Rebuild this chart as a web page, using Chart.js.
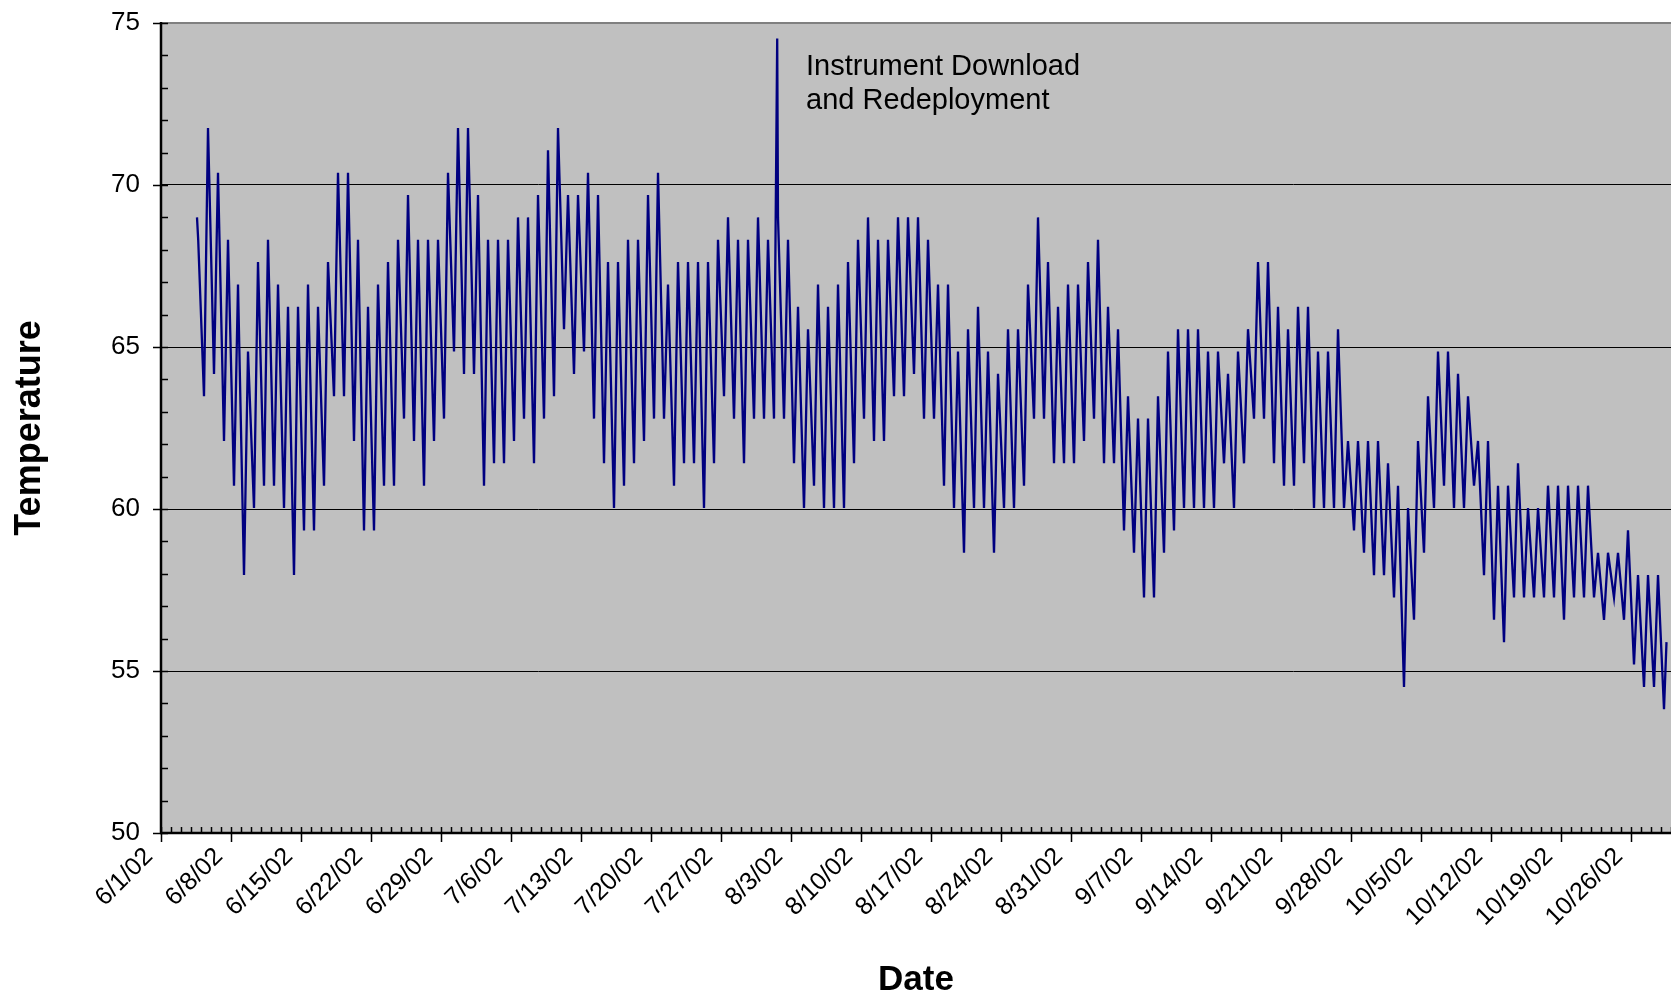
<!DOCTYPE html>
<html lang="en">
<head>
<meta charset="utf-8"/>
<title>Temperature, June – October 2002</title>
<script src="https://cdn.jsdelivr.net/npm/chart.js"></script>
<style>
  body{margin:0;background:#fff}
  .chart-box{position:relative;width:1671px;height:998px}
</style>
</head>
<body>
<div class="chart-box"><canvas id="tempChart"></canvas></div>
<script>
// x values are days counted from 6/1/02 00:00
const tickLabels=['6/1/02','6/8/02','6/15/02','6/22/02','6/29/02','7/6/02','7/13/02','7/20/02','7/27/02','8/3/02','8/10/02','8/17/02','8/24/02','8/31/02','9/7/02','9/14/02','9/21/02','9/28/02','10/5/02','10/12/02','10/19/02','10/26/02'];
const yTicks=[50,55,60,65,70,75];

const firstDay=4;          // first full day of record: 6/5/02
const lowTime=0.3,highTime=0.7;
// daily morning minimum, 6/5 .. 10/31
const morningLows=[
  63.48,64.17,62.10,60.72,57.96,60.03,60.72,60.72,60.03,57.96,
  59.34,59.34,60.72,63.48,63.48,62.10,59.34,59.34,60.72,60.72,
  62.79,62.10,60.72,62.10,62.79,64.86,64.17,64.17,60.72,61.41,
  61.41,62.10,62.79,61.41,62.79,63.48,65.55,64.17,64.86,62.79,
  61.41,60.03,60.72,61.41,62.10,62.79,62.79,60.72,61.41,61.41,
  60.03,61.41,63.48,62.79,61.41,62.79,62.79,62.79,62.79,61.41,
  60.03,60.72,60.03,60.03,60.03,61.41,62.79,62.10,62.10,63.48,
  63.48,64.17,62.79,62.79,60.72,60.03,58.65,60.03,60.03,58.65,
  60.03,60.03,60.72,62.79,62.79,61.41,61.41,61.41,62.10,62.79,
  61.41,61.41,59.34,58.65,57.27,57.27,58.65,59.34,60.03,60.03,
  60.03,60.03,61.41,60.03,61.41,62.79,62.79,61.41,60.72,60.72,
  61.41,60.03,60.03,60.03,60.03,59.34,58.65,57.96,57.96,57.27,
  54.51,56.58,58.65,60.03,60.72,60.03,60.03,60.72,57.96,56.58,
  55.89,57.27,57.27,57.27,57.27,57.27,56.58,57.27,57.27,57.27,
  56.58,57.27,56.58,55.20,54.51,54.51,53.82
];
// daily afternoon maximum, 6/5 .. 10/30
const afternoonHighs=[
  71.76,70.38,68.31,66.93,64.86,67.62,68.31,66.93,66.24,66.24,
  66.93,66.24,67.62,70.38,70.38,68.31,66.24,66.93,67.62,68.31,
  69.69,68.31,68.31,68.31,70.38,71.76,71.76,69.69,68.31,68.31,
  68.31,69.00,69.00,69.69,71.07,71.76,69.69,69.69,70.38,69.69,
  67.62,67.62,68.31,68.31,69.69,70.38,66.93,67.62,67.62,67.62,
  67.62,68.31,69.00,68.31,68.31,69.00,68.31,69.00,68.31,66.24,
  65.55,66.93,66.24,66.93,67.62,68.31,69.00,68.31,68.31,69.00,
  69.00,69.00,68.31,66.93,66.93,64.86,65.55,66.24,64.86,64.17,
  65.55,65.55,66.93,69.00,67.62,66.24,66.93,66.93,67.62,68.31,
  66.24,65.55,63.48,62.79,62.79,63.48,64.86,65.55,65.55,65.55,
  64.86,64.86,64.17,64.86,65.55,67.62,67.62,66.24,65.55,66.24,
  66.24,64.86,64.86,65.55,62.10,62.10,62.10,62.10,61.41,60.72,
  60.03,62.10,63.48,64.86,64.86,64.17,63.48,62.10,62.10,60.72,
  60.72,61.41,60.03,60.03,60.72,60.72,60.72,60.72,60.72,58.65,
  58.65,58.65,59.34,57.96,57.96,57.96
];
const startReadings=[[3.60,69.00],[3.66,69.00],[3.72,68.31]];
const redeploySpike=[61.62,74.52];
const endReadings=[[150.55,55.89]];

const noteLines=['Instrument Download','and Redeployment'];
const noteAt=[64.5,73.40];

const FONT='"Liberation Sans", Arial, sans-serif';

const points=[];
startReadings.forEach(([d,v])=>points.push({x:d,y:v}));
morningLows.forEach((v,i)=>points.push({x:firstDay+i+lowTime,y:v}));
afternoonHighs.forEach((v,i)=>points.push({x:firstDay+i+highTime,y:v}));
points.push({x:redeploySpike[0],y:redeploySpike[1]});
endReadings.forEach(([d,v])=>points.push({x:d,y:v}));
points.sort((a,b)=>a.x-b.x);

const plotBg={
  id:'plotBg',
  beforeDraw(chart){
    const {ctx,chartArea:a}=chart;
    ctx.save();ctx.fillStyle='#c0c0c0';
    ctx.fillRect(a.left,a.top,a.right-a.left,a.bottom-a.top);
    ctx.restore();
  }
};

const axisMarks={
  id:'axisMarks',
  afterDraw(chart){
    const {ctx,chartArea:a,scales:{x,y}}=chart;
    ctx.save();
    ctx.strokeStyle='#808080';ctx.lineWidth=2;
    ctx.beginPath();ctx.moveTo(a.left,a.top);ctx.lineTo(a.right,a.top);ctx.stroke();
    ctx.strokeStyle='#000';ctx.lineWidth=1.5;
    ctx.beginPath();
    for(let v=y.min;v<=y.max;v++){
      const py=Math.round(y.getPixelForValue(v))+0.5;
      ctx.moveTo(v%5===0?a.left-8:a.left,py);ctx.lineTo(a.left+7,py);
    }
    for(let d=x.min;d<=x.max;d++){
      const px=Math.round(x.getPixelForValue(d))+0.5;
      ctx.moveTo(px,d%7===0?a.bottom+9:a.bottom);ctx.lineTo(px,a.bottom-6);
    }
    ctx.stroke();
    ctx.lineWidth=2.5;
    ctx.beginPath();
    ctx.moveTo(a.left,a.top-1);ctx.lineTo(a.left,a.bottom+1);
    ctx.moveTo(a.left-1,a.bottom);ctx.lineTo(a.right,a.bottom);
    ctx.stroke();
    ctx.restore();
  }
};

const note={
  id:'note',
  afterDraw(chart){
    const {ctx,scales:{x,y}}=chart;
    ctx.save();
    ctx.font='29px '+FONT;ctx.fillStyle='#000';ctx.textBaseline='alphabetic';
    const px=x.getPixelForValue(noteAt[0]),py=y.getPixelForValue(noteAt[1]);
    noteLines.forEach((t,i)=>ctx.fillText(t,px,py+i*34));
    ctx.restore();
  }
};

new Chart(document.getElementById('tempChart'),{
  type:'line',
  data:{datasets:[{
    label:'Temperature',
    data:points,
    borderColor:'#000080',
    borderWidth:2.3,
    pointRadius:0,
    tension:0,
    fill:false
  }]},
  options:{
    responsive:true,
    maintainAspectRatio:false,
    animation:false,
    layout:{padding:{top:23,right:0,bottom:0,left:0}},
    plugins:{legend:{display:false},tooltip:{enabled:false}},
    scales:{
      x:{
        type:'linear',min:0,max:151,
        afterFit:s=>{s.height=165;s.paddingLeft=0;s.paddingRight=0;},
        grid:{display:false,drawTicks:false},
        border:{display:false},
        ticks:{
          stepSize:7,includeBounds:false,autoSkip:false,
          minRotation:45,maxRotation:45,padding:9,labelOffset:-12,
          color:'#000',font:{family:FONT,size:25},
          callback:v=>tickLabels[Math.round(v/7)]
        },
        title:{display:true,text:'Date',color:'#000',
          font:{family:FONT,size:35,weight:'bold',lineHeight:1},padding:{top:0,bottom:0}}
      },
      y:{
        min:50,max:75,
        afterFit:s=>{s.width=161;s.paddingTop=0;s.paddingBottom=0;},
        afterBuildTicks:s=>{s.ticks=yTicks.map(v=>({value:v}));},
        grid:{drawTicks:false,lineWidth:1,
          color:c=>(c.tick&&c.tick.value>50&&c.tick.value<75)?'#000':'rgba(0,0,0,0)'},
        border:{display:false},
        ticks:{padding:21,color:'#000',font:{family:FONT,size:26}},
        title:{display:true,text:'Temperature',color:'#000',
          font:{family:FONT,size:36,weight:'bold',lineHeight:1},padding:{top:12,bottom:0}}
      }
    }
  },
  plugins:[plotBg,axisMarks,note]
});
</script>
</body>
</html>
